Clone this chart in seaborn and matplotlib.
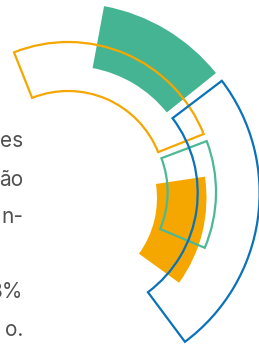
"""Arcos decorativos (setores anelares) com fragmentos de texto à esquerda."""

import matplotlib

matplotlib.use("Agg")
import matplotlib.pyplot as plt
import numpy as np
import seaborn as sns

# --- dados: ângulos de cada arco (graus, 0 = leste, sentido anti-horário) ---
arc_names = ["verde", "laranja", "laranja_linha", "verde_linha", "azul_linha"]
arc_start = [38.7, -35.9, 21.7, -22.8, -53.3]
arc_end = [79.5, 8.5, 111.7, 20.7, 37.2]
arc_filled = [True, True, False, False, False]

text_lines = ["es", "ão", "n-", "3%", "o."]

# --- layout (pixels da figura, y a partir do topo) ---
W, H = 259, 349
centers = [(70, 190), (62, 198), (68, 188), (72, 192), (74, 193)]
radii = [(124, 187), (95, 144.5), (97, 146), (95.6, 144), (123.7, 185.6)]
colors = ["#45B492", "#F5A700", "#F5A700", "#4DB894", "#0A72BA"]
text_baselines = [147.5, 186, 223, 297.5, 336]
RMAX = 200

sns.set_theme(style="white")
plt.rcParams["font.family"] = ["Inter", "DejaVu Sans"]

fig = plt.figure(figsize=(W / 100, H / 100), dpi=100)

for i in range(len(arc_names)):
    cx, cy = centers[i]
    ax = fig.add_axes(
        [(cx - RMAX) / W, (H - cy - RMAX) / H, 2 * RMAX / W, 2 * RMAX / H],
        projection="polar",
    )
    ax.set_ylim(0, RMAX)
    ax.axis("off")
    ax.patch.set_alpha(0)
    r_in, r_out = radii[i]
    t0, t1 = np.deg2rad(arc_start[i]), np.deg2rad(arc_end[i])
    if arc_filled[i]:
        ax.bar((t0 + t1) / 2, r_out - r_in, width=t1 - t0, bottom=r_in,
               color=colors[i], linewidth=0)
    else:
        ax.bar((t0 + t1) / 2, r_out - r_in, width=t1 - t0, bottom=r_in,
               facecolor="none", edgecolor=colors[i], linewidth=1.6)

for txt, yb in zip(text_lines, text_baselines):
    fig.text(23.5 / W, 1 - yb / H, txt, ha="right", va="baseline",
             fontsize=15, color="#505050")

fig.savefig("out.png", dpi=100)
